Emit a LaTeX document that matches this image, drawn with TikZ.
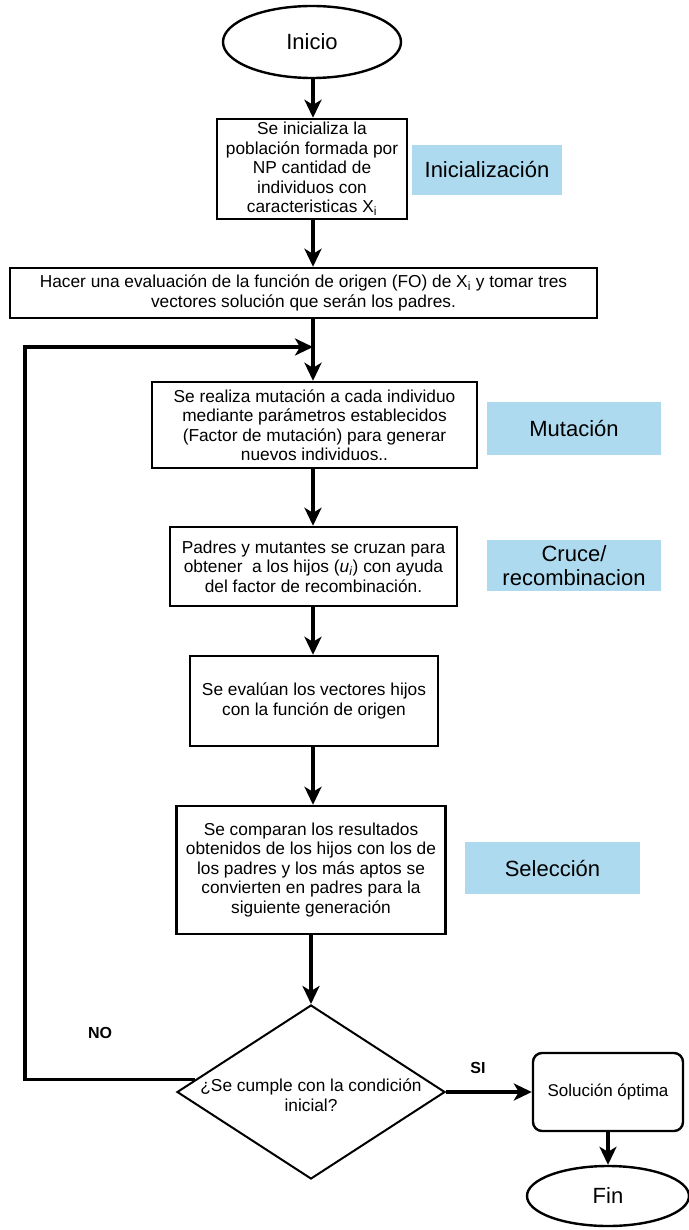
\documentclass[tikz,border=0pt]{standalone}
\usepackage{fontspec}
\setmainfont{Liberation Sans}
\usetikzlibrary{shapes.geometric,arrows.meta}
\definecolor{tagblue}{RGB}{173,218,238}
\begin{document}
\begin{tikzpicture}
        [
            x=1pt, y=-1pt,
            box/.style = {draw, line width=2.4pt, align=center, inner sep=0pt, font=\fontsize{17.3}{19.5}\selectfont},
            tag/.style = {fill=tagblue, align=center, inner sep=0pt, font=\fontsize{22}{24}\selectfont},
            term/.style = {draw, ellipse, line width=2.4pt, inner sep=0pt, font=\fontsize{22}{24}\selectfont},
            flow/.style = {-{Stealth[length=18pt,width=17pt,inset=5pt]}, line width=3.2pt},
            answer/.style = {font=\bfseries\fontsize{16}{18}\selectfont},
        ]
        \useasboundingbox (0,0) rectangle (688,1230);
        \node [term, minimum width=178pt, minimum height=72pt] (inicio) at (312,42) {Inicio};
        \node [box, minimum width=190pt, minimum height=100pt] (pob) at (312,169) {Se inicializa la\\población formada por\\NP cantidad de\\individuos con\\caracteristicas X\textsubscript{i}};
        \node [tag, minimum width=150pt, minimum height=50pt] (tini) at (487,170) {Inicialización};
        \node [box, minimum width=587pt, minimum height=50pt] (eval) at (303.5,293) {Hacer una evaluación de la función de origen (FO) de X\textsubscript{i} y tomar tres\\vectores solución que serán los padres.};
        \node [box, minimum width=325pt, minimum height=86pt] (mut) at (314.5,425) {Se realiza mutación a cada individuo\\mediante parámetros establecidos\\(Factor de mutación) para generar\\nuevos individuos..};
        \node [tag, minimum width=174pt, minimum height=53pt] (tmut) at (574,428.5) {Mutación};
        \node [box, minimum width=287pt, minimum height=79pt] (cru) at (313.5,566.5) {Padres y mutantes se cruzan para\\obtener~ a los hijos (\textit{u}\textsubscript{\textit{i}}) con ayuda\\del factor de recombinación.};
        \node [tag, minimum width=174pt, minimum height=51pt] (tcru) at (574,565.5) {Cruce/\\recombinacion};
        \node [box, minimum width=248pt, minimum height=90pt] (hij) at (314,701) {Se evalúan los vectores hijos\\con la función de origen};
        \node [box, minimum width=269pt, minimum height=128pt] (sel) at (311,870) {Se comparan los resultados\\obtenidos de los hijos con los de\\los padres y los más aptos se\\convierten en padres para la\\siguiente generación};
        \node [tag, minimum width=175pt, minimum height=52pt] (tsel) at (552.5,868) {Selección};
        \node [draw, diamond, line width=2pt, minimum width=268pt, minimum height=174pt, inner sep=0pt,
               label={[align=center, yshift=-3pt, font=\fontsize{17.3}{19.5}\selectfont]center:¿Se cumple con la condición\\inicial?}] (dec) at (311,1092) {};
        \node [box, rounded corners=9pt, minimum width=150pt, minimum height=78pt, font=\fontsize{17}{19}\selectfont] (sol) at (608,1092) {Solución óptima};
        \node [term, minimum width=162pt, minimum height=60pt] (fin) at (608,1196) {Fin};
        \node [answer] (no) at (100,1033) {NO};
        \node [answer] (si) at (478,1068) {SI};
        \coordinate (loop) at (25,347);
        \coordinate (join) at (313,347);
        \draw[flow] (inicio.south -| join) -- (join |- pob.north);
        \draw[flow] (pob.south -| join) -- (join |- eval.north);
        \draw[flow] (eval.south -| join) -- (join |- mut.north);
        \draw[flow] (mut.south -| join) -- (join |- cru.north);
        \draw[flow] (cru.south -| join) -- (join |- hij.north);
        \draw[flow] (hij.south -| join) -- (join |- sel.north);
        \draw[flow] (sel.south) -- (dec.north);
        \draw[flow] (dec.174) -| (loop) -- (join);
        \draw[flow] (dec.east) -- (sol.west);
        \draw[flow] (sol.south) -- (fin.north);
    \end{tikzpicture}
\end{document}
